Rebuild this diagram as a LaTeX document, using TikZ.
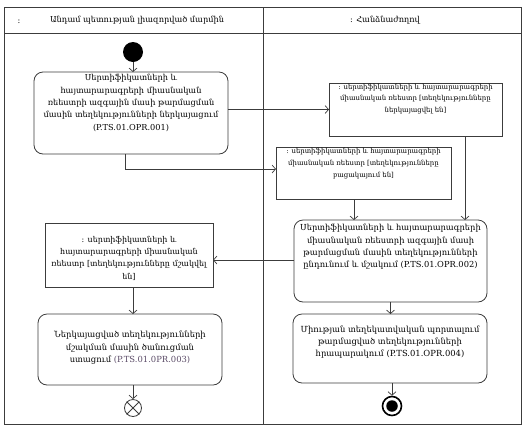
\documentclass[tikz,border=0pt]{standalone}
\usepackage{fontspec}
\setmainfont{DejaVu Serif}
\usetikzlibrary{arrows.meta}
\definecolor{ln}{HTML}{3C3C3C}
\definecolor{codec}{HTML}{5A4A66}
% width, height, top gap, font size, baselineskip, text
\newcommand\bxt[6]{\parbox[c][#2][t]{#1}{\centering\fontsize{#4}{#5}\selectfont\vspace*{#3}#6\par}}
\tikzset{
  act/.style={draw=ln, line width=0.8pt, rounded corners=9pt, inner sep=0pt, outer sep=0pt},
  obj/.style={draw=ln, line width=0.8pt, inner sep=0pt, outer sep=0pt},
  arr/.style={draw=ln, line width=0.7pt, -{Straight Barb[length=3.5pt,width=8pt]}},
  hdr/.style={font=\fontsize{8.2pt}{10pt}\selectfont, inner sep=0pt}
}
\begin{document}
\begin{tikzpicture}[x=1pt,y=-1pt]
\useasboundingbox (0,0) rectangle (530,432);
% frame
\draw[draw=ln, line width=0.9pt] (4,7) rectangle (521,424);
\draw[draw=ln, line width=0.9pt] (4,33) -- (521,33);
\draw[draw=ln, line width=0.9pt] (263,7) -- (263,424);
\node[hdr] (hcolon) at (19,22) {:};
\node[hdr] (hleft) at (137,20) {Անդամ պետության լիազորված մարմին};
\node[hdr] (hright) at (385,20) {: Հանձնաժողով};
% nodes
\node[circle, fill=black, minimum size=20pt, inner sep=0pt] (start) at (133,52) {};
\node[act] (b1) at (131,113) {\bxt{194pt}{82pt}{2.5pt}{8.2pt}{12.3pt}{Սերտիֆիկատների և\\ հայտարարագրերի միասնական\\ ռեեստրի ազգային մասի թարմացման\\ մասին տեղեկությունների ներկայացում\\ (P.TS.01.OPR.001)}};
\node[obj] (rt) at (415.5,109.5) {\bxt{173pt}{53pt}{1pt}{6.9pt}{11.5pt}{: սերտիֆիկատների և հայտարարագրերի\\ միասնական ռեեստր [տեղեկությունները\\ ներկայացվել են]}};
\node[obj] (mid) at (363.5,173) {\bxt{175pt}{52pt}{1.5pt}{6.9pt}{12pt}{: սերտիֆիկատների և հայտարարագրերի\\ միասնական ռեեստր [տեղեկությունները\\ բացակայում են]}};
\node[act] (b2) at (390.5,261) {\bxt{193pt}{82pt}{4.5pt}{8.3pt}{12.3pt}{Սերտիֆիկատների և հայտարարագրերի\\ միասնական ռեեստրի ազգային մասի\\ թարմացման մասին տեղեկությունների\\ ընդունում և մշակում (P.TS.01.OPR.002)}};
\node[obj] (lb) at (129,255) {\bxt{168pt}{64pt}{13pt}{8pt}{12.3pt}{: սերտիֆիկատների և\\ հայտարարագրերի միասնական\\ ռեեստր [տեղեկությունները մշակվել\\ են]}};
\node[act] (b3) at (130,349.5) {\bxt{184pt}{71pt}{17pt}{8.4pt}{12.5pt}{Ներկայացված տեղեկությունների\\ մշակման մասին ծանուցման\\ ստացում {\color{codec}(P.TS.01.0PR.003)}}};
\node[act] (b4) at (390,348.5) {\bxt{194pt}{69pt}{12pt}{8.4pt}{12pt}{Միության տեղեկատվական պորտալում\\ թարմացված տեղեկությունների\\ հրապարակում (P.TS.01.OPR.004)}};
\node[circle, draw=ln, line width=0.8pt, minimum size=17pt, inner sep=0pt] (ff) at (133,408) {};
\draw[ln, line width=0.8pt] (ff.north east) -- (ff.south west) (ff.north west) -- (ff.south east);
\node[circle, draw=black, line width=1.6pt, minimum size=19pt, inner sep=0pt] (fin) at (392,406) {};
\node[circle, fill=black, minimum size=11.5pt, inner sep=0pt] (fincore) at (fin.center) {};
% connectors
\draw[arr] (start) -- (start |- b1.north);
\draw[arr] (b1.east |- rt.west) -- (rt.west);
\draw[arr] ([xshift=-6pt]b1.south) |- ([yshift=4pt]mid.west);
\draw[arr] ([xshift=-9.5pt]mid.south) coordinate (m1) -- (m1 |- b2.north);
\draw[arr] ([xshift=49.5pt]rt.south) coordinate (r1) -- (r1 |- b2.north);
\draw[arr] ([yshift=1pt]b2.west) coordinate (w1) -- (w1 -| lb.east);
\draw[arr] ([xshift=4pt]lb.south) coordinate (l1) -- (l1 |- b3.north);
\draw[arr] (ff.north |- b3.south) -- (ff.north);
\draw[arr] (b2.south) -- (b2.south |- b4.north);
\draw[arr] (fin.north |- b4.south) -- (fin.north);
\end{tikzpicture}
\end{document}
